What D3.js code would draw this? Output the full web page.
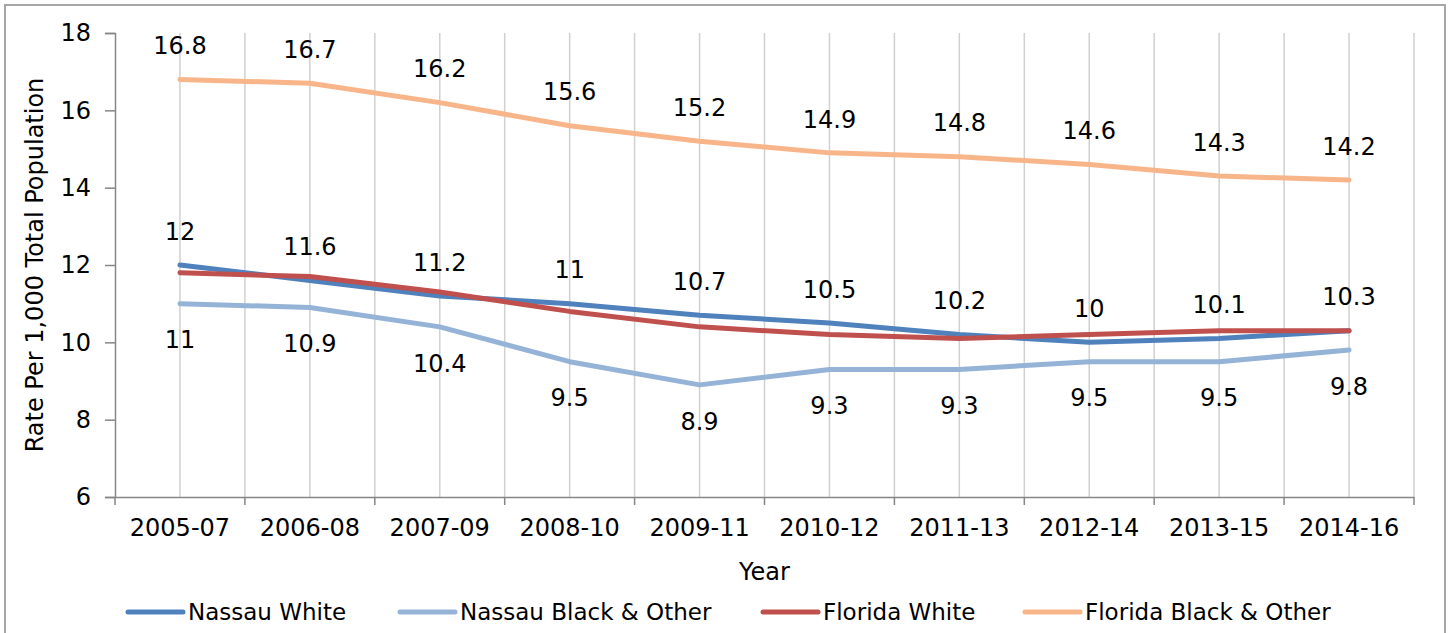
<!DOCTYPE html>
<html>
<head>
<meta charset="utf-8">
<script src="https://cdn.jsdelivr.net/npm/d3@7"></script>
<style>
  body { margin: 0; background: #fff; }
  text { font-family: "DejaVu Sans", sans-serif; fill: #000; }
</style>
</head>
<body>
<div id="chart"></div>
<script>
var years = ["2005-07","2006-08","2007-09","2008-10","2009-11","2010-12","2011-13","2012-14","2013-15","2014-16"];
var nassauWhite = [12, 11.6, 11.2, 11, 10.7, 10.5, 10.2, 10, 10.1, 10.3];
var nassauBlack = [11, 10.9, 10.4, 9.5, 8.9, 9.3, 9.3, 9.5, 9.5, 9.8];
var floridaWhite = [11.8, 11.7, 11.3, 10.8, 10.4, 10.2, 10.1, 10.2, 10.3, 10.3];
var floridaBlack = [16.8, 16.7, 16.2, 15.6, 15.2, 14.9, 14.8, 14.6, 14.3, 14.2];
var yTicks = [6, 8, 10, 12, 14, 16, 18];

var series = [
  {name: "Nassau White", values: nassauWhite, color: "#4f81bd", label: "above"},
  {name: "Nassau Black & Other", values: nassauBlack, color: "#95b3d7", label: "below"},
  {name: "Florida White", values: floridaWhite, color: "#c0504d", label: null},
  {name: "Florida Black & Other", values: floridaBlack, color: "#f9b58a", label: "above"}
];
var legendX = [128, 400, 763, 1025];

var W = 1451, H = 633;
var plotL = 115, plotR = 1414, plotT = 33, plotB = 497;

var svg = d3.select("#chart").append("svg")
    .attr("width", W)
    .attr("height", H);

// outer frame
svg.append("rect")
    .attr("x", 5).attr("y", 5)
    .attr("width", 1440).attr("height", 660)
    .attr("fill", "none")
    .attr("stroke", "#a6a6a6")
    .attr("stroke-width", 2);

var x = d3.scaleBand().domain(years).range([plotL, plotR]).paddingInner(0).paddingOuter(0);
var bw = x.bandwidth();
var cx = function(i){ return x(years[i]) + bw / 2; };
var y = d3.scaleLinear().domain([6, 18]).range([plotB, plotT]);

// vertical gridlines at centers and boundaries
var grid = [];
years.forEach(function(c){ grid.push(x(c) + bw / 2); grid.push(x(c) + bw); });
svg.append("g").selectAll("line")
    .data(grid)
    .enter().append("line")
    .attr("x1", function(d){ return d; }).attr("x2", function(d){ return d; })
    .attr("y1", plotT).attr("y2", plotB)
    .attr("stroke", "#d0d0d0")
    .attr("stroke-width", 1.5);

// y axis
var yAxis = svg.append("g")
    .attr("transform", "translate(" + plotL + ",0)")
    .call(d3.axisLeft(y).tickValues(yTicks).tickSize(10).tickPadding(14));
yAxis.select(".domain").attr("stroke", "#868686").attr("stroke-width", 1.5);
yAxis.selectAll(".tick line").attr("stroke", "#868686").attr("stroke-width", 1.5);
yAxis.selectAll("text").style("font-size", "24px").style("font-family", "DejaVu Sans").attr("fill", "#000");

// x axis
var xAxis = svg.append("g")
    .attr("transform", "translate(0," + plotB + ")")
    .call(d3.axisBottom(x).tickSize(0).tickPadding(22));
xAxis.select(".domain").attr("stroke", "#868686").attr("stroke-width", 1.5);
xAxis.selectAll("text").style("font-size", "24px").style("font-family", "DejaVu Sans").attr("fill", "#000");
var bounds = [plotL].concat(years.map(function(c){ return x(c) + bw; }));
svg.append("g").selectAll("line")
    .data(bounds)
    .enter().append("line")
    .attr("x1", function(d){ return d; }).attr("x2", function(d){ return d; })
    .attr("y1", plotB).attr("y2", plotB + 8)
    .attr("stroke", "#868686")
    .attr("stroke-width", 1.5);

// axis titles
svg.append("text")
    .attr("x", (plotL + plotR) / 2).attr("y", 580)
    .attr("text-anchor", "middle")
    .style("font-size", "24px")
    .text("Year");
svg.append("text")
    .attr("transform", "translate(43," + ((plotT + plotB) / 2) + ") rotate(-90)")
    .attr("text-anchor", "middle")
    .style("font-size", "24px")
    .text("Rate Per 1,000 Total Population");

// lines
var line = d3.line()
    .x(function(d, i){ return cx(i); })
    .y(function(d){ return y(d); });

series.forEach(function(s){
  svg.append("path")
      .datum(s.values)
      .attr("d", line)
      .attr("fill", "none")
      .attr("stroke", s.color)
      .attr("stroke-width", 5)
      .attr("stroke-linecap", "round")
      .attr("stroke-linejoin", "round");
});

// data labels
series.forEach(function(s){
  if (!s.label) return;
  svg.append("g").selectAll("text")
      .data(s.values)
      .enter().append("text")
      .attr("x", function(d, i){ return cx(i); })
      .attr("y", function(d){ return s.label == "above" ? y(d) - 34 : y(d) + 36; })
      .attr("dy", "0.36em")
      .attr("text-anchor", "middle")
      .style("font-size", "24px")
      .text(function(d){ return d; });
});

// legend
var legend = svg.append("g").selectAll("g")
    .data(series)
    .enter().append("g")
    .attr("transform", function(d, i){ return "translate(" + legendX[i] + ",612)"; });
legend.append("line")
    .attr("x1", 0).attr("x2", 55)
    .attr("stroke", function(d){ return d.color; })
    .attr("stroke-width", 5)
    .attr("stroke-linecap", "round");
legend.append("text")
    .attr("x", 60)
    .attr("dy", "0.36em")
    .style("font-size", "23px")
    .text(function(d){ return d.name; });
</script>
</body>
</html>
